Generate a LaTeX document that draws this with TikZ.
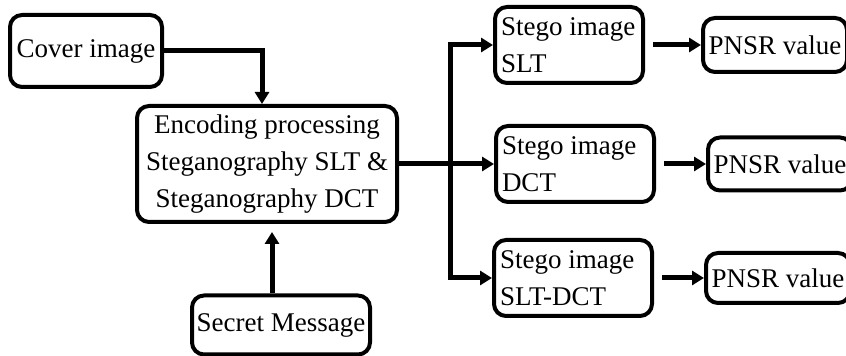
\documentclass[tikz,border=0pt]{standalone}
\usepackage{fontspec}
\setmainfont{Liberation Serif}
\usetikzlibrary{arrows.meta}
\tikzset{
  box/.style={draw,line width=2pt,rounded corners=6pt,font=\fontsize{13.5}{18.5}\selectfont,align=center,inner sep=2pt},
  stego/.style={box,align=flush left,inner xsep=3pt,text width=#1,minimum height=38pt},
  flow/.style={line width=2.5pt,-{Triangle[length=6pt,width=7pt]}},
}
\begin{document}
\begin{tikzpicture}[x=0.5pt,y=-0.5pt]
\useasboundingbox (0,0) rectangle (846,356);
% inputs and encoder
\node[box,minimum width=76pt,minimum height=36pt] (cover) at (86,51) {Cover image};
\node[box,minimum width=130pt,minimum height=58pt] (enc) at (267,164) {Encoding processing\\Steganography SLT \&\\Steganography DCT};
\node[box,minimum width=89pt,minimum height=29.5pt] (secret) at (281,325) {Secret Message};
% stego images
\node[stego=68pt] (slt) at (569,45) {Stego image\\SLT};
\node[stego=73pt] (dct) at (575,164) {Stego image\\DCT};
\node[stego=73pt] (sd) at (573,278) {Stego image\\SLT-DCT};
% psnr values
\node[box,minimum width=72pt,minimum height=27pt] (p1) at (775,45) {PNSR value};
\node[box,minimum width=72pt,minimum height=26.5pt] (p2) at (780,164) {PNSR value};
\node[box,minimum width=72pt,minimum height=25pt] (p3) at (778,278) {PNSR value};
% arrows
\draw[flow] (cover.east) -| ([xshift=-2.5pt]enc.north);
\draw[flow,shorten >=4pt] ([xshift=-4.5pt]secret.north) -- ([xshift=-4.5pt]secret.north |- enc.south);
\coordinate (split) at (450,164);
\draw[line width=2.5pt] (enc.east) -- (split);
\draw[flow] (split) |- (slt.west);
\draw[flow] (split) -- (dct.west);
\draw[flow] (split) |- (sd.west);
\foreach \a/\b in {slt/p1,dct/p2,sd/p3}
  \draw[flow] ([xshift=4pt]\a.east) -- (\b.west);
\end{tikzpicture}
\end{document}
